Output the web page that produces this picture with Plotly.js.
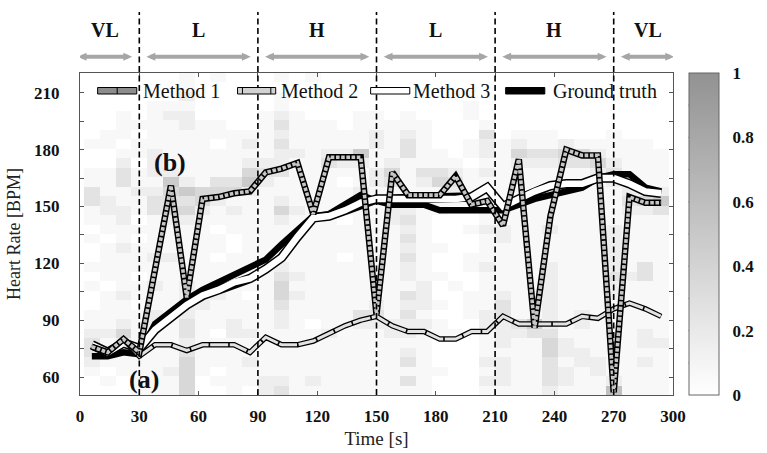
<!DOCTYPE html>
<html>
<head>
<meta charset="utf-8">
<script src="https://cdn.plot.ly/plotly-3.0.1.min.js"></script>
<style>
  html, body { margin: 0; padding: 0; background: #ffffff; }
  #chart { width: 767px; height: 453px; }
</style>
</head>
<body>
<div id="chart"></div>
<script>
// ---------------- DATA ----------------
const times = [6, 14, 22, 30, 38, 46, 54, 62, 70, 78, 86, 94, 102, 110, 118, 126, 134, 142, 150,
               158, 166, 174, 182, 190, 198, 206, 214, 222, 230, 238, 246, 254, 262, 270, 278, 286, 294];

const groundTruth = [71, 71, 73, 72, 88, 95, 101, 106, 110, 114, 118, 122, 130, 138, 145, 146, 151, 156, 153,
                     151, 151, 151, 148, 148, 148, 148, 148, 151, 154, 156, 158, 160, 165, 167, 167, 160, 158];

const method3 = [77, 73, 78, 75, 85, 92, 98, 103, 106, 110, 112, 117, 123, 134, 144, 145, 148, 152, 154,
                 154, 154, 154, 154, 154, 155, 160, 150, 154, 158, 161, 162, 162, 165, 165, 162, 158, 157];

const method2 = [76, 73, 80, 71, 77, 77, 74, 77, 77, 77, 73, 81, 77, 77, 79, 83, 87, 90, 92,
                 87, 84, 84, 80, 80, 84, 84, 92, 88, 88, 88, 88, 92, 91, 96, 99, 96, 92];

const method1 = [76, 73, 80, 73, 117, 161, 102, 154, 155, 157, 158, 168, 170, 173, 146, 176, 176, 176, 93,
                 168, 156, 156, 156, 166, 151, 153, 140, 175, 86, 145, 180, 177, 177, 52, 155, 152, 152];

// heat-map rows (bin centres, BPM), top to bottom
const bpmBins = [218, 213, 208, 203, 198, 193, 188, 183, 178, 173, 168, 163, 158, 153, 148, 143, 138,
                 133, 128, 123, 118, 113, 108, 103, 98, 93, 88, 83, 78, 73, 68, 63, 58, 53];

const heatLevels = [0, 0.06, 0.16, 0.26, 0.36, 0.48, 0.58, 0.68, 0.78, 0.9];

// one string per time column (same order as times), one digit per bpm bin (top->bottom)
const heatColumns = [
  "0000000100 1133110100 1010011233 2100",
  "0000001100 1112211011 1101111212 1010",
  "0000111012 3311221121 1112112421 1100",
  "0000010110 1121101011 1011011111 1111",
  "0001111122 2123311112 1121122111 1111",
  "0001211111 2543421112 1111111111 1211",
  "1121221111 1253421111 1122223323 4444",
  "0000011111 1144211111 1111211111 1100",
  "1000011011 1342110110 1122111011 1010",
  "0000001111 1341211001 1111112211 1111",
  "0000001212 4521111111 1110111211 2110",
  "0000111112 3211111111 1111111111 1122",
  "1011232322 3112421111 2344322111 1123",
  "0000111121 1111211111 1212111111 1111",
  "1000011111 1111111111 1111110111 1121",
  "0000011123 1111111111 1111111211 1111",
  "0000001122 1011101110 1111111111 1111",
  "0000111152 1122111111 1111132111 1111",
  "0000112211 2211111111 1111232111 1111",
  "0000011112 4311221111 1111112211 1111",
  "0000112331 1111232323 2213232212 3131",
  "0000011111 3211111111 1122212111 1111",
  "0000000011 3411100010 0100101100 0100",
  "0000000001 2321000000 0010000100 0000",
  "0001100110 1111001001 1001110000 0000",
  "0000013221 2111112111 2111122111 2121",
  "0000000111 1111212211 1112332221 2221",
  "0000001242 1111111111 1111113211 1111",
  "0000001132 1111111111 1111115311 1111",
  "0000001132 1111112111 2222222344 3332",
  "0000000243 1111111111 1111111122 1221",
  "0000000143 1111111111 1111122112 2111",
  "0000000124 2111111111 1111111111 2211",
  "0000001112 3211112222 2322111111 1126",
  "0000000111 1123211111 1211111111 1111",
  "0000000111 1124211111 3311111221 2111",
  "0000000011 1125311111 1111111121 1111"
];

const xTickVals = [0, 30, 60, 90, 120, 150, 180, 210, 240, 270, 300];
const yTickVals = [60, 75, 90, 105, 120, 135, 150, 165, 180, 195, 210];
const yTickText = ["60", "", "90", "", "120", "", "150", "", "180", "", "210"];
const cbTickVals = [0, 0.2, 0.4, 0.6, 0.8, 1];
const cbTickText = ["0", "0.2", "0.4", "0.6", "0.8", "1"];
const cbMinorTicks = [0.1, 0.2, 0.3, 0.4, 0.5, 0.6, 0.7, 0.8, 0.9];

const phaseBounds = [0, 30, 90, 150, 210, 270, 300];
const phaseLabels = ["VL", "L", "H", "L", "H", "VL"];
const phaseDividers = [30, 90, 150, 210, 270];

const legendNames = ["Method 1", "Method 2", "Method 3", "Ground truth"];

// ---------------- BUILD ----------------
const cols = heatColumns.map(s => s.replace(/ /g, ""));
const z = bpmBins.map((b, r) => cols.map(c => heatLevels[Number(c[r])]));

const SERIF = "Liberation Serif, Times New Roman, serif";
const L = 80, R = 81, T = 73, B = 58, PW = 767 - L - R, PH = 453 - T - B;
const px = v => (v - L) / PW;          // pixel x -> paper
const py = v => (453 - B - v) / PH;    // pixel y -> paper

const traces = [];
traces.push({
  type: "heatmap", x: times, y: bpmBins, z: z, zmin: 0, zmax: 1,
  colorscale: [[0, "#ffffff"], [1, "#929292"]], hoverinfo: "skip",
  colorbar: {
    x: px(702), xanchor: "left", xpad: 0, y: 0.5, yanchor: "middle", ypad: 0,
    len: 1, lenmode: "fraction", thickness: 30, thicknessmode: "pixels",
    outlinewidth: 1, outlinecolor: "#666666",
    tickmode: "array", tickvals: cbTickVals, ticktext: cbTickText,
    ticks: "outside", ticklen: 10, tickcolor: "rgba(0,0,0,0)",
    tickfont: { family: SERIF, size: 17, color: "#111111", weight: "bold" }
  }
});
const line = (y, color, width, dash) => ({
  type: "scatter", mode: "lines", x: times, y: y, hoverinfo: "skip", showlegend: false,
  line: { color: color, width: width, dash: dash || "solid", shape: "linear" }
});
traces.push(line(groundTruth, "#000000", 6.5));
traces.push(line(method3, "#000000", 9.5));
traces.push(line(method3, "#ffffff", 6.5));
traces.push(line(method2, "#000000", 5.5));
traces.push(line(method2, "#e2e2e2", 3, "18px,1.6px"));
traces.push(line(method1, "#000000", 6.5));
traces.push(line(method1, "#c6c6c6", 3.6, "3.6px,1.6px"));

const shapes = [];
const annotations = [];

// phase dividers
phaseDividers.forEach(t => shapes.push({
  type: "line", xref: "x", yref: "paper", x0: t, x1: t, y0: 0, y1: py(12),
  line: { color: "#000000", width: 1.6, dash: "6px,3.5px" }, layer: "above"
}));

// phase arrows and labels
const arrowY = py(56.7), headH = 4 / PH, headL = 4.5;
for (let i = 0; i < phaseLabels.length; i++) {
  const a0 = phaseBounds[i] === 0 ? -1.2 : phaseBounds[i] + 3.6;
  const a1 = phaseBounds[i + 1] === 300 ? 300.6 : phaseBounds[i + 1] - 3.6;
  shapes.push({ type: "line", xref: "x", yref: "paper", x0: a0 + 2, x1: a1 - 2, y0: arrowY, y1: arrowY,
                line: { color: "#a6a6a6", width: 4 } });
  shapes.push({ type: "path", xref: "x", yref: "paper", fillcolor: "#a6a6a6", line: { width: 0 },
                path: `M ${a0} ${arrowY} L ${a0 + headL} ${arrowY + headH} L ${a0 + headL} ${arrowY - headH} Z` });
  shapes.push({ type: "path", xref: "x", yref: "paper", fillcolor: "#a6a6a6", line: { width: 0 },
                path: `M ${a1} ${arrowY} L ${a1 - headL} ${arrowY + headH} L ${a1 - headL} ${arrowY - headH} Z` });
  annotations.push({ xref: "x", yref: "paper", x: (a0 + a1) / 2, y: py(30), text: phaseLabels[i],
                     showarrow: false, xanchor: "center", yanchor: "middle",
                     font: { family: SERIF, size: 20, color: "#111111", weight: "bold" } });
}

// (a) / (b) labels
annotations.push({ xref: "x", yref: "y", x: 32.6, y: 58.5, text: "(a)", showarrow: false,
                   font: { family: SERIF, size: 26, color: "#111111", weight: "bold" } });
annotations.push({ xref: "x", yref: "y", x: 45.4, y: 173, text: "(b)", showarrow: false,
                   font: { family: SERIF, size: 26, color: "#111111", weight: "bold" } });

// legend (drawn manually)
const legY0 = py(94), legY1 = py(87.5), legYc = py(90.7);
const legSamples = [
  { x0: 98, x1: 138, fill: "#8c8c8c", divs: [118], tx: 142 },
  { x0: 241, x1: 280, fill: "#d2d2d2", divs: [246, 275], tx: 283 },
  { x0: 377, x1: 417, fill: "#ffffff", divs: [], tx: 418 },
  { x0: 515, x1: 555, fill: "#000000", divs: [], tx: 561 }
];
legSamples.forEach((s, i) => {
  shapes.push({ type: "rect", xref: "paper", yref: "paper", x0: px(s.x0), x1: px(s.x1), y0: legY0, y1: legY1,
                fillcolor: s.fill, line: { color: "#000000", width: 1 }, layer: "above" });
  s.divs.forEach(d => shapes.push({ type: "line", xref: "paper", yref: "paper", x0: px(d), x1: px(d),
                 y0: legY0, y1: legY1, line: { color: "#000000", width: 1 }, layer: "above" }));
  annotations.push({ xref: "paper", yref: "paper", x: px(s.tx), y: legYc, text: legendNames[i],
                     showarrow: false, xanchor: "left", yanchor: "middle",
                     font: { family: SERIF, size: 20, color: "#111111" } });
});

// colorbar ticks on both sides (inside)
const cbL = px(702), cbR = px(732), tk = 5 / PW;
cbMinorTicks.forEach(v => {
  shapes.push({ type: "line", xref: "paper", yref: "paper", x0: cbL, x1: cbL + tk, y0: v, y1: v,
                line: { color: "#333333", width: 1 } });
  shapes.push({ type: "line", xref: "paper", yref: "paper", x0: cbR - tk, x1: cbR, y0: v, y1: v,
                line: { color: "#333333", width: 1 } });
});

const layout = {
  width: 767, height: 453,
  margin: { l: L, r: R, t: T, b: B, pad: 0 },
  paper_bgcolor: "#ffffff", plot_bgcolor: "#ffffff",
  showlegend: false,
  font: { family: SERIF, color: "#111111" },
  xaxis: {
    range: [0, 300], tickmode: "array", tickvals: xTickVals,
    ticks: "inside", ticklen: 4, tickcolor: "#555555", mirror: "ticks",
    showline: true, linecolor: "#555555", linewidth: 1, showgrid: false, zeroline: false,
    ticklabelstandoff: 6,
    tickfont: { family: SERIF, size: 17, color: "#111111", weight: "bold" },
    title: { text: "Time [s]", standoff: 6, font: { family: SERIF, size: 19, color: "#222222" } }
  },
  yaxis: {
    range: [50.5, 220.5], tickmode: "array", tickvals: yTickVals, ticktext: yTickText,
    ticks: "inside", ticklen: 4, tickcolor: "#555555", mirror: "ticks",
    showline: true, linecolor: "#555555", linewidth: 1, showgrid: false, zeroline: false,
    ticklabelstandoff: 16,
    tickfont: { family: SERIF, size: 17, color: "#111111", weight: "bold" },
    title: { text: "Heart Rate [BPM]", standoff: 8, font: { family: SERIF, size: 18, color: "#222222" } }
  },
  shapes: shapes,
  annotations: annotations
};

Plotly.newPlot("chart", traces, layout, { displayModeBar: false, staticPlot: true });
</script>
</body>
</html>
